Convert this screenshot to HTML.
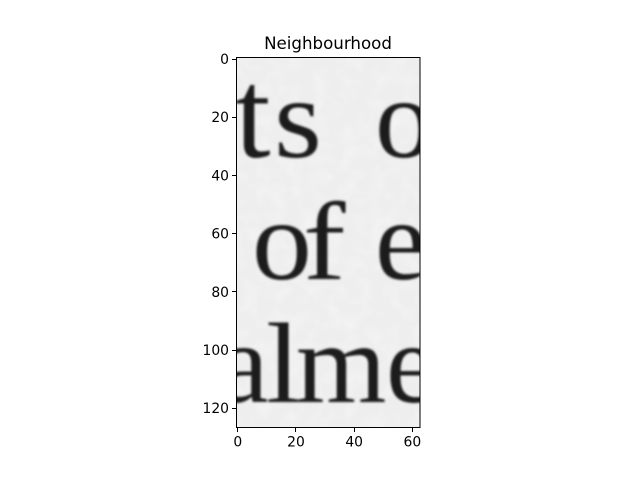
<!DOCTYPE html>
<html>
<head>
<meta charset="utf-8">
<title>Neighbourhood</title>
<style>
html,body{margin:0;padding:0;background:#fff;width:640px;height:480px;overflow:hidden}
svg{display:block}
text{font-family:"DejaVu Sans","Liberation Sans",sans-serif;fill:#000}
.g{font-family:"Liberation Serif",serif;font-size:114px;fill:#1a1a1a}
</style>
</head>
<body>
<svg id="chart" width="640" height="480" viewBox="0 0 640 480" xmlns="http://www.w3.org/2000/svg">
  <defs>
    <clipPath id="clip"><rect x="236.35" y="57.6" width="183.3" height="369.6"/></clipPath>
    <filter id="blur" x="-10%" y="-10%" width="120%" height="120%"><feGaussianBlur stdDeviation="0.95"/></filter>
    <filter id="paper" x="0" y="0" width="100%" height="100%">
      <feTurbulence type="fractalNoise" baseFrequency="0.07" numOctaves="2" seed="4"/>
      <feColorMatrix type="matrix" values="0 0 0 0 1  0 0 0 0 1  0 0 0 0 1  0 0 0 1.1 -0.42"/>
    </filter>
  </defs>
  <text x="328" y="49" font-size="16.67" text-anchor="middle">Neighbourhood</text>
  <g clip-path="url(#clip)">
    <rect x="236" y="57" width="184" height="371" fill="#eeeeee"/>
    <rect x="236" y="57" width="184" height="371" filter="url(#paper)" opacity="0.55"/>
    <g filter="url(#blur)">
      <text class="g" transform="translate(235 157) scale(1.12 1.12)">t</text>
      <text class="g" transform="translate(274 157) scale(1.08 1)">s</text>
      <text class="g" transform="translate(375 157) scale(1.02 1)">o</text>
      <text class="g" transform="translate(252 279) scale(1.05 1)">o</text>
      <text class="g" transform="translate(303 279) scale(1.12 0.98)">f</text>
      <text class="g" transform="translate(375 279) scale(1.02 1)">e</text>
      <text class="g" transform="translate(218 402)">a</text>
      <text class="g" transform="translate(266 402) scale(1.1 1)">l</text>
      <text class="g" transform="translate(296 402) scale(1.02 1)">m</text>
      <text class="g" transform="translate(386 402)">e</text>
    </g>
  </g>
  <rect x="236.5" y="57.5" width="183.5" height="370" fill="none" stroke="#000" stroke-width="1"/>
  <g id="axes"></g>
</svg>
<script>
const xTicks = [0, 20, 40, 60];
const yTicks = [0, 20, 40, 60, 80, 100, 120];
const xLabels = ['0', '20', '40', '60'];
const yLabels = ['0', '20', '40', '60', '80', '100', '120'];
const NS = 'http://www.w3.org/2000/svg';
const axes = document.getElementById('axes');
const unit = 183.3 / 63;
function xScale(v) { return 236.35 + (v + 0.5) * unit; }
function yScale(v) { return 57.6 + (v + 0.5) * unit; }
function addTick(x1, y1, x2, y2) {
  const line = document.createElementNS(NS, 'line');
  
  
  line.setAttribute('x1', x1);
  line.setAttribute('y1', y1);
  line.setAttribute('x2', x2);
  line.setAttribute('y2', y2);
  line.setAttribute('stroke', '#000');
  line.setAttribute('stroke-width', '1');
  axes.appendChild(line);
}
function addLabel(x, y, anchor, str) {
  const t = document.createElementNS(NS, 'text');
  
  
  t.setAttribute('x', x);
  t.setAttribute('y', y);
  t.setAttribute('text-anchor', anchor);
  t.setAttribute('font-size', '13.89');
  t.textContent = str;
  axes.appendChild(t);
}
xTicks.forEach(function (v, i) {
  const x = Math.round(xScale(v) - 0.5) + 0.5;
  addTick(x, 427.5, x, 432);
  addLabel(xScale(v), 446.5, 'middle', xLabels[i]);
});
yTicks.forEach(function (v, i) {
  const y = Math.round(yScale(v) - 0.5) + 0.5;
  addTick(236.5, y, 232, y);
  addLabel(229, yScale(v) + 5, 'end', yLabels[i]);
});
</script>
</body>
</html>
